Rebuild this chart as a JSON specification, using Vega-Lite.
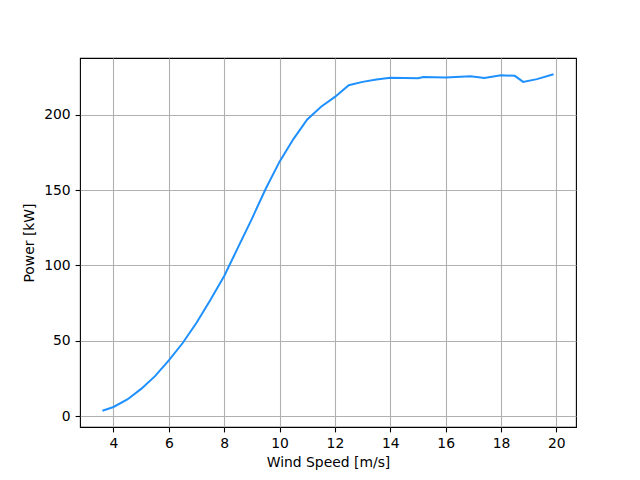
{
  "$schema": "https://vega.github.io/schema/vega-lite/v6.json",
  "width": 496,
  "height": 369,
  "autosize": {"type": "none"},
  "padding": {"left": 80, "top": 58, "right": 64, "bottom": 53},
  "background": "white",
  "config": {
    "view": {"stroke": "black", "strokeWidth": 1.1},
    "font": "DejaVu Sans",
    "axis": {
      "domain": false,
      "gridColor": "#b0b0b0",
      "gridWidth": 1.1,
      "gridOpacity": 1,
      "tickColor": "black",
      "tickSize": 4.9,
      "tickWidth": 1.1,
      "labelFont": "DejaVu Sans",
      "labelFontSize": 13.9,
      "labelColor": "black",
      "labelPadding": 4.9,
      "titleFont": "DejaVu Sans",
      "titleFontSize": 13.9,
      "titleFontWeight": "normal",
      "titleColor": "black"
    }
  },
  "data": {
    "values": [
      {"ws": 3.6, "p": 3.5},
      {"ws": 4.0, "p": 6},
      {"ws": 4.5, "p": 11},
      {"ws": 5.0, "p": 18},
      {"ws": 5.5, "p": 26.5},
      {"ws": 6.0, "p": 37},
      {"ws": 6.5, "p": 48.5},
      {"ws": 7.0, "p": 62},
      {"ws": 7.5, "p": 77},
      {"ws": 8.0, "p": 93},
      {"ws": 8.5, "p": 112},
      {"ws": 9.0, "p": 131},
      {"ws": 9.5, "p": 151},
      {"ws": 10.0, "p": 169},
      {"ws": 10.5, "p": 184},
      {"ws": 11.0, "p": 197},
      {"ws": 11.5, "p": 205.5},
      {"ws": 12.0, "p": 212},
      {"ws": 12.5, "p": 219.8},
      {"ws": 13.0, "p": 222},
      {"ws": 13.5, "p": 223.5},
      {"ws": 14.0, "p": 224.7},
      {"ws": 15.0, "p": 224.4},
      {"ws": 15.2, "p": 225.2},
      {"ws": 16.0, "p": 224.9},
      {"ws": 16.9, "p": 225.8},
      {"ws": 17.4, "p": 224.6},
      {"ws": 18.0, "p": 226.4},
      {"ws": 18.5, "p": 226},
      {"ws": 18.8, "p": 222},
      {"ws": 19.3, "p": 223.8},
      {"ws": 19.9, "p": 227}
    ]
  },
  "mark": {"type": "line", "color": "#1e90ff", "strokeWidth": 2, "clip": true},
  "encoding": {
    "x": {
      "field": "ws",
      "type": "quantitative",
      "scale": {"domain": [2.79, 20.71], "nice": false, "zero": false},
      "axis": {"values": [4, 6, 8, 10, 12, 14, 16, 18, 20], "title": "Wind Speed [m/s]", "titlePadding": 5}
    },
    "y": {
      "field": "p",
      "type": "quantitative",
      "scale": {"domain": [-7.3, 237.85], "nice": false, "zero": false},
      "axis": {"values": [0, 50, 100, 150, 200], "title": "Power [kW]", "titlePadding": 7}
    }
  }
}
